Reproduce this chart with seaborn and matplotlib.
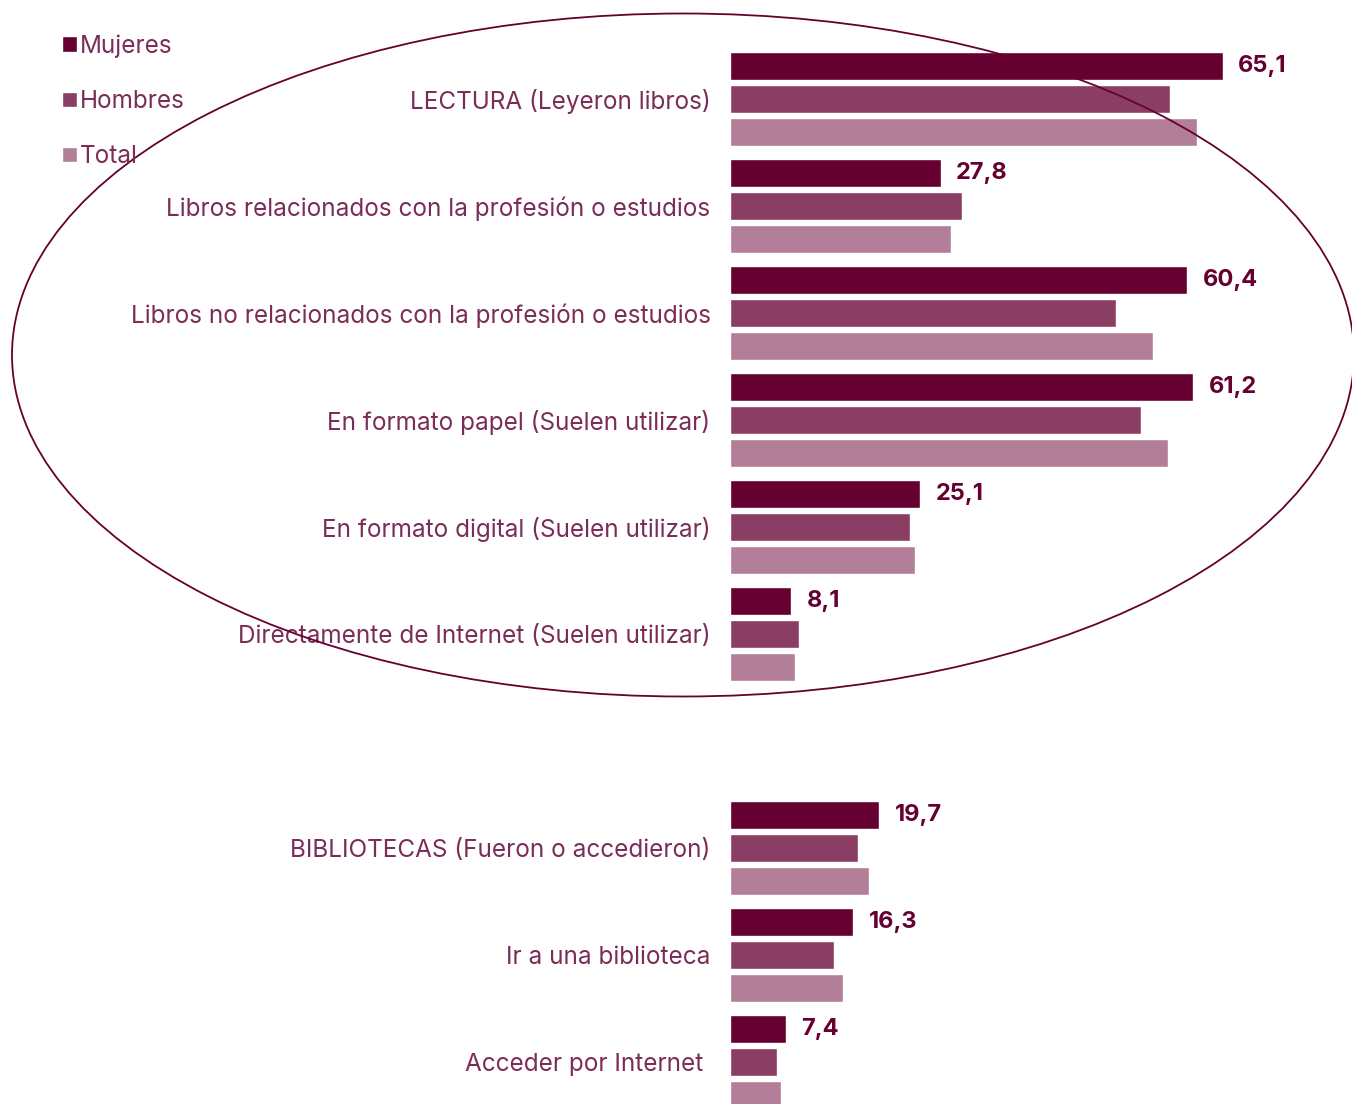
import numpy as np
import pandas as pd
import matplotlib.pyplot as plt
import seaborn as sns
from matplotlib.patches import Ellipse

# Values (%)
categories = [
    "LECTURA (Leyeron libros)",
    "Libros relacionados con la profesión o estudios",
    "Libros no relacionados con la profesión o estudios",
    "En formato papel (Suelen utilizar)",
    "En formato digital (Suelen utilizar)",
    "Directamente de Internet (Suelen utilizar)",
    "BIBLIOTECAS (Fueron o accedieron)",
    "Ir a una biblioteca",
    "Acceder por Internet ",
]
mujeres = [65.1, 27.8, 60.4, 61.2, 25.1, 8.1, 19.7, 16.3, 7.4]
hombres = [58.1, 30.6, 51.0, 54.3, 23.8, 9.1, 16.9, 13.7, 6.2]
total = [61.7, 29.2, 55.9, 57.8, 24.4, 8.6, 18.4, 14.9, 6.7]
series = ["Mujeres", "Hombres", "Total"]
colors = ["#650030", "#8b3e63", "#b27e98"]

# empty slot between the reading block and the libraries block
order = categories[:6] + [" "] + categories[6:]

df = pd.DataFrame({
    "categoria": categories * 3,
    "valor": mujeres + hombres + total,
    "serie": np.repeat(series, len(categories)),
})

sns.set_theme(style="white")
plt.rcParams["font.family"] = ["Inter", "DejaVu Sans"]

text_color = "#7b2d57"

fig = plt.figure(figsize=(13.52, 11.04), dpi=100)
ax = fig.add_axes([730 / 1352, 0, 622 / 1352, 1])

sns.barplot(data=df, y="categoria", x="valor", hue="serie", order=order,
            hue_order=series, palette=colors, orient="h", width=0.925,
            gap=0.18, edgecolor="white", linewidth=1, saturation=1, ax=ax)

ax.set_xlim(0, 622 / 7.573)
ax.set_ylim((1104 - 99) / 107, -99 / 107)
ax.set_xlabel("")
ax.set_ylabel("")
ax.set_xticks([])
sns.despine(ax=ax, left=True, bottom=True)
ax.tick_params(axis="y", length=0, pad=14, labelsize=17.5, labelcolor=text_color)

# value labels on the Mujeres bars only
ax.bar_label(ax.containers[0], labels=[f"{v:.1f}".replace(".", ",") for v in mujeres],
             padding=11, fontsize=17, fontweight="bold", color="#650030")

handles, labels = ax.get_legend_handles_labels()
ax.legend_.remove()
fig.legend(handles, labels, loc="upper left", bbox_to_anchor=(0.03, 0.989),
           frameon=False, fontsize=17.5, handlelength=0.6, handleheight=0.6,
           handletextpad=0.1, labelspacing=1.33, labelcolor=text_color)

fig.patches.append(Ellipse((683 / 1352, 1 - 355 / 1104), 1342 / 1352, 683 / 1104,
                           transform=fig.transFigure, fill=False,
                           edgecolor="#650030", linewidth=1.3, zorder=5))

fig.savefig("out.png", dpi=100)
